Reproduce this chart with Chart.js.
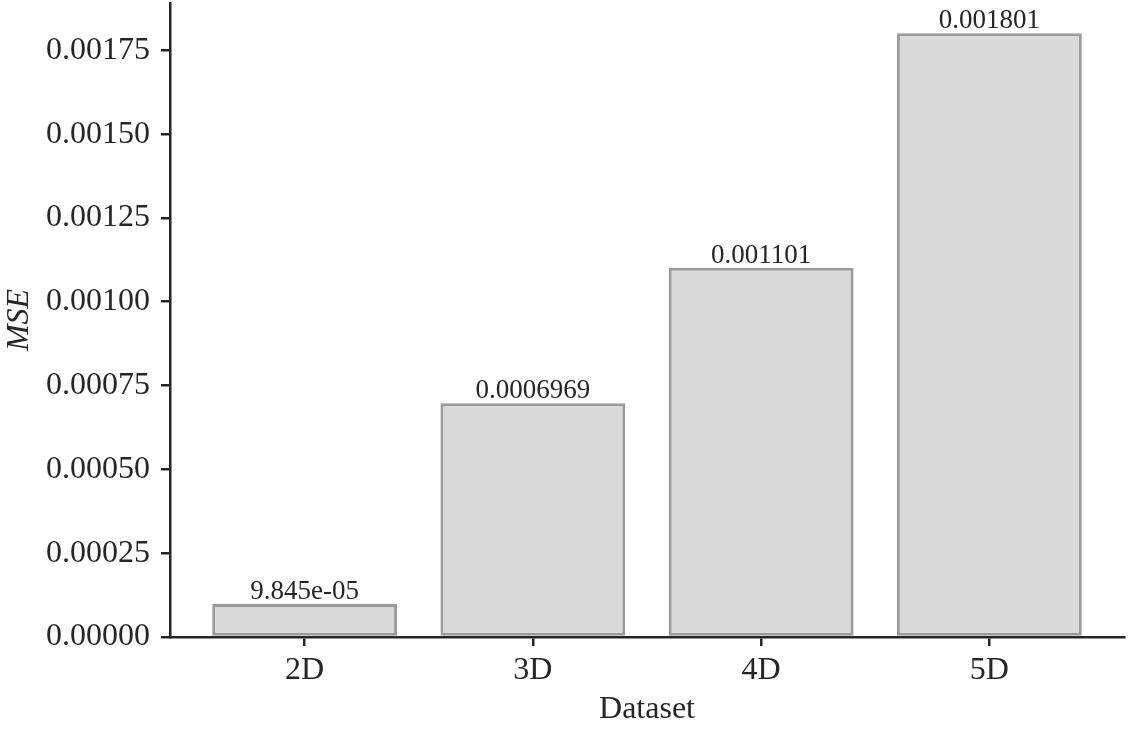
<!DOCTYPE html>
<html>
<head>
<meta charset="utf-8">
<script src="https://cdn.jsdelivr.net/npm/chart.js@4/dist/chart.umd.min.js"></script>
<style>
  html, body { margin: 0; padding: 0; background: #fff; }
  #wrap { width: 1129px; height: 729px; }
</style>
</head>
<body>
<div id="wrap"><canvas id="mse" width="1129" height="729"></canvas></div>
<script>
// data
const categories = ['2D', '3D', '4D', '5D'];
const mseValues = [9.845e-05, 0.0006969, 0.001101, 0.001801];
const barLabels = ['9.845e-05', '0.0006969', '0.001101', '0.001801'];
const yTicks = [0, 0.00025, 0.0005, 0.00075, 0.001, 0.00125, 0.0015, 0.00175];
const yMax = 0.00189105;

const FONT = "'Liberation Serif', 'Times New Roman', serif";
const INK = '#262626';

// value text above each bar
const barValueLabels = {
    id: 'barValueLabels',
    afterDatasetsDraw(chart) {
        const ctx = chart.ctx;
        const meta = chart.getDatasetMeta(0);
        ctx.save();
        ctx.font = `27px ${FONT}`;
        ctx.fillStyle = INK;
        ctx.textAlign = 'center';
        ctx.textBaseline = 'alphabetic';
        meta.data.forEach((bar, i) => {
            ctx.fillText(barLabels[i], bar.x, bar.y - 5);
        });
        ctx.restore();
    },
};

const axisGrid = {
    drawOnChartArea: false,
    drawTicks: true,
    tickLength: 9,
    offset: false,
    color: INK,
    lineWidth: 2.5,
};

// keep Chart.js from reserving room for edge tick labels
function noEdgePadding(scale) {
    scale.paddingTop = 0;
    scale.paddingBottom = 0;
    scale.paddingLeft = 0;
    scale.paddingRight = 0;
}

new Chart(document.getElementById('mse'), {
    type: 'bar',
    data: {
        datasets: [{
            data: categories.map((c, i) => ({ x: i, y: mseValues[i] })),
            backgroundColor: '#d9d9d9',
            borderColor: '#9a9a9a',
            borderWidth: 3,
            borderSkipped: false,
            categoryPercentage: 1,
            barPercentage: 0.81,
        }],
    },
    options: {
        responsive: false,
        animation: false,
        devicePixelRatio: 1,
        layout: { padding: { top: 3, right: 5, left: 0, bottom: 0 } },
        plugins: { legend: { display: false }, tooltip: { enabled: false } },
        scales: {
            x: {
                type: 'linear',
                offset: false,
                min: -0.59,
                max: 3.59,
                afterBuildTicks(scale) {
                    scale.ticks = categories.map((c, i) => ({ value: i }));
                },
                afterFit(scale) {
                    scale.height = 92;
                    noEdgePadding(scale);
                },
                ticks: {
                    callback: v => categories[v],
                    color: INK,
                    font: { family: FONT, size: 32 },
                    padding: 5,
                    maxRotation: 0,
                },
                grid: axisGrid,
                border: { display: true, color: INK, width: 2.5 },
                title: {
                    display: true,
                    text: 'Dataset',
                    color: INK,
                    font: { family: FONT, size: 32 },
                    padding: { top: 0, bottom: 0 },
                },
            },
            y: {
                min: 0,
                max: yMax,
                afterBuildTicks(scale) {
                    scale.ticks = yTicks.map(v => ({ value: v }));
                },
                afterFit(scale) {
                    scale.width = 170;
                    noEdgePadding(scale);
                },
                ticks: {
                    callback: v => v.toFixed(5),
                    color: INK,
                    font: { family: FONT, size: 32 },
                    padding: 11,
                },
                grid: axisGrid,
                border: { display: true, color: INK, width: 2.5 },
                title: {
                    display: true,
                    text: 'MSE',
                    color: INK,
                    font: { family: FONT, size: 32, style: 'italic' },
                    padding: { top: 0, bottom: 0 },
                },
            },
        },
    },
    plugins: [barValueLabels],
});
</script>
</body>
</html>
